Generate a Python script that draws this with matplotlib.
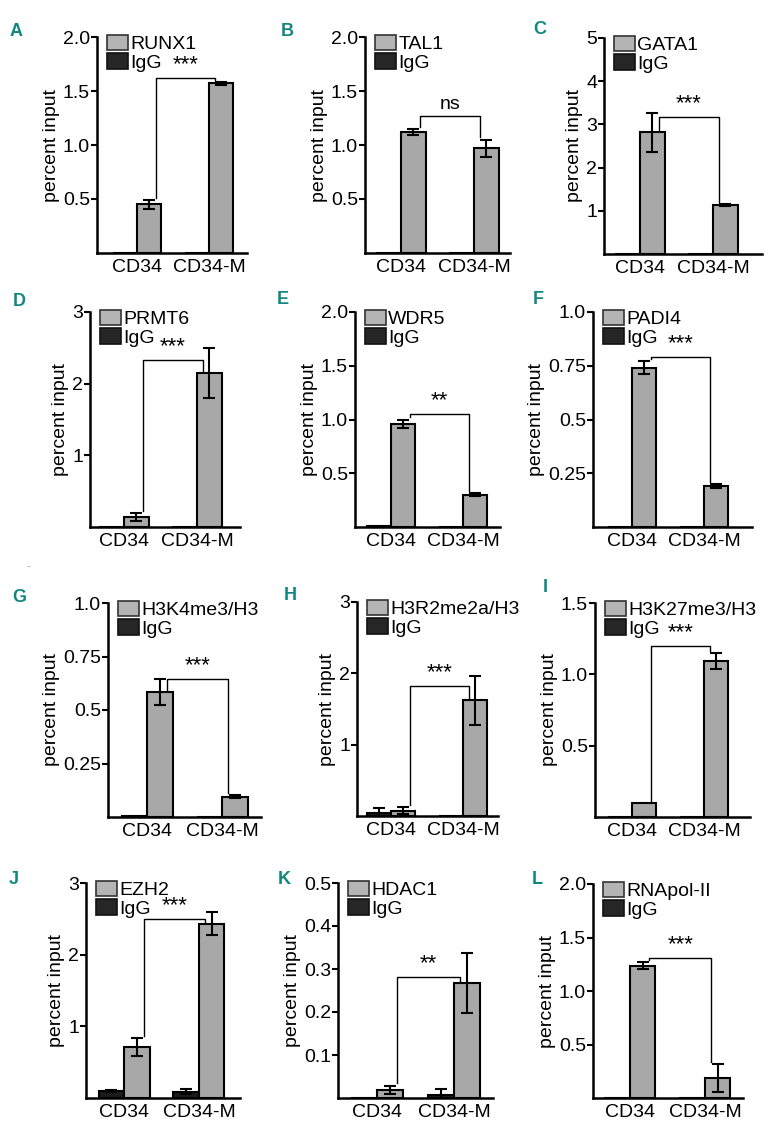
import matplotlib
matplotlib.use('Agg')
import matplotlib.pyplot as plt
import numpy as np
from matplotlib.patches import Patch

plt.rcParams['font.family'] = ['Liberation Sans', 'DejaVu Sans']

# ---- data ----
panel_letters = ['A', 'B', 'C', 'D', 'E', 'F', 'G', 'H', 'I', 'J', 'K', 'L']
antibodies = ['RUNX1', 'TAL1', 'GATA1', 'PRMT6', 'WDR5', 'PADI4',
              'H3K4me3/H3', 'H3R2me2a/H3', 'H3K27me3/H3', 'EZH2', 'HDAC1', 'RNApol-II']
cell_types = ['CD34', 'CD34-M']

ab_mean = [[0.45, 1.57], [1.12, 0.97], [2.82, 1.13], [0.14, 2.15],
           [0.96, 0.30], [0.74, 0.19], [0.585, 0.095], [0.075, 1.62],
           [0.095, 1.095], [0.71, 2.43], [0.019, 0.268], [1.237, 0.19]]
ab_err = [[0.04, 0.01], [0.03, 0.08], [0.45, 0.02], [0.06, 0.35],
          [0.04, 0.015], [0.03, 0.01], [0.06, 0.007], [0.05, 0.34],
          [0.0, 0.055], [0.13, 0.16], [0.01, 0.07], [0.03, 0.13]]
igg_mean = [[0.0, 0.0], [0.0, 0.0], [0.01, 0.0], [0.005, 0.0],
            [0.005, 0.0], [0.0, 0.0], [0.007, 0.002], [0.04, 0.0],
            [0.0, 0.0], [0.10, 0.09], [0.0, 0.008], [0.0, 0.003]]
igg_err = [[0, 0], [0, 0], [0, 0], [0, 0],
           [0, 0], [0, 0], [0, 0], [0.07, 0],
           [0, 0], [0.01, 0.04], [0, 0.012], [0, 0]]

y_max = [2.0, 2.0, 5, 3, 2.0, 1.0, 1.0, 3, 1.5, 3, 0.5, 2.0]
y_ticks = [[0.5, 1.0, 1.5, 2.0], [0.5, 1.0, 1.5, 2.0], [1, 2, 3, 4, 5], [1, 2, 3],
           [0.5, 1.0, 1.5, 2.0], [0.25, 0.5, 0.75, 1.0], [0.25, 0.5, 0.75, 1.0], [1, 2, 3],
           [0.5, 1.0, 1.5], [1, 2, 3], [0.1, 0.2, 0.3, 0.4, 0.5], [0.5, 1.0, 1.5, 2.0]]
y_ticklabels = [['0.5', '1.0', '1.5', '2.0'], ['0.5', '1.0', '1.5', '2.0'],
                ['1', '2', '3', '4', '5'], ['1', '2', '3'],
                ['0.5', '1.0', '1.5', '2.0'], ['0.25', '0.5', '0.75', '1.0'],
                ['0.25', '0.5', '0.75', '1.0'], ['1', '2', '3'],
                ['0.5', '1.0', '1.5'], ['1', '2', '3'],
                ['0.1', '0.2', '0.3', '0.4', '0.5'], ['0.5', '1.0', '1.5', '2.0']]
signif = ['***', 'ns', '***', '***', '**', '***', '***', '***', '***', '***', '**', '***']
bracket_top = [1.62, 1.27, 3.17, 2.33, 1.05, 0.79, 0.645, 1.82, 1.20, 2.5, 0.282, 1.31]

# ---- layout (pixels in the 768x1131 figure: left, top, right, bottom) ----
W, H = 768, 1131
rects = [(97, 37, 247, 253), (365, 37, 510, 253), (604, 38, 762, 254),
         (90, 312, 240, 527), (355, 312, 500, 527), (593, 312, 752, 527),
         (108, 603, 261, 817), (357, 602, 498, 816), (595, 603, 750, 817),
         (86, 883, 240, 1098), (338, 883, 493, 1098), (593, 884, 743, 1098)]
xlims = [(-0.556, 1.528), (-0.493, 1.493), (-0.493, 1.671),
         (-0.466, 1.589), (-0.5, 1.514), (-0.542, 1.667),
         (-0.52, 1.52), (-0.472, 1.486), (-0.514, 1.639),
         (-0.507, 1.547), (-0.506, 1.506), (-0.493, 1.507)]
letter_pos = [(16, 32), (287, 32), (540, 30), (19, 301), (283, 300), (538, 300),
              (19, 597), (290, 596), (545, 588), (14, 880), (284, 880), (537, 880)]

ab_color = '#a8a8a8'
igg_color = '#1c1c1c'
teal = '#12877f'
fs = 14
w = 0.34

fig = plt.figure(figsize=(W / 100, H / 100), dpi=100)

for i in range(12):
    L, T, R, B = rects[i]
    ax = fig.add_axes([L / W, 1 - B / H, (R - L) / W, (B - T) / H])
    x = np.arange(2)
    x_igg = x - w / 2
    x_ab = x + w / 2

    ax.bar(x_igg, igg_mean[i], w, color=igg_color, edgecolor='black', linewidth=1.5, zorder=2)
    ax.bar(x_ab, ab_mean[i], w, color=ab_color, edgecolor='black', linewidth=1.5, zorder=2)
    for xs, ms, es in [(x_igg, igg_mean[i], igg_err[i]), (x_ab, ab_mean[i], ab_err[i])]:
        for xx, m, e in zip(xs, ms, es):
            if e > 0:
                ax.errorbar(xx, m, yerr=e, fmt='none', ecolor='black',
                            elinewidth=1.5, capsize=4, capthick=1.5, zorder=3)

    # significance bracket
    top = bracket_top[i]
    xl = x_ab[0] + 0.09
    xr = x_ab[1] - 0.09
    starts = []
    for m, e in zip(ab_mean[i], ab_err[i]):
        s = m + e if m + e < top - 0.01 * y_max[i] else m
        starts.append(s + 0.01 * y_max[i])
    ax.plot([xl, xl, xr, xr], [starts[0], top, top, starts[1]],
            color='black', lw=1, zorder=4, clip_on=False)
    sig_fs = fs if signif[i] == 'ns' else 16
    ax.text((xl + xr) / 2, top + 0.012 * y_max[i], signif[i],
            ha='center', va='bottom', fontsize=sig_fs)

    ax.set_xlim(*xlims[i])
    ax.set_ylim(0, y_max[i])
    ax.set_yticks(y_ticks[i])
    ax.set_yticklabels(y_ticklabels[i])
    ax.set_xticks(x)
    ax.set_xticklabels(cell_types)
    ax.tick_params(axis='y', length=4, width=1.5, labelsize=fs, pad=1)
    ax.tick_params(axis='x', length=0, labelsize=fs, pad=4)
    ax.spines['top'].set_visible(False)
    ax.spines['right'].set_visible(False)
    ax.spines['left'].set_linewidth(1.8)
    ax.spines['bottom'].set_linewidth(1.8)
    ax.set_ylabel('percent input', fontsize=fs, labelpad=2)

    handles = [Patch(facecolor='#b4b4b4', edgecolor='#333333', linewidth=1.2),
               Patch(facecolor='#262626', edgecolor='#111111', linewidth=1.2)]
    ax.legend(handles, [antibodies[i], 'IgG'], loc='upper left',
              bbox_to_anchor=(10 / (R - L), 1.01), frameon=False, fontsize=fs,
              handlelength=1.1, handleheight=0.85, handletextpad=0.1,
              labelspacing=0.0, borderpad=0, borderaxespad=0)

    lx, ly = letter_pos[i]
    fig.text(lx / W, 1 - ly / H, panel_letters[i], color=teal, fontsize=13,
             fontweight='bold', ha='center', va='center',
             family=['Liberation Sans Narrow', 'Liberation Sans'])

# small stray dash above panel G in the original figure
fig.text(28 / W, 1 - 566 / H, '-', color='#9a9a9a', fontsize=8, ha='center', va='center')

fig.savefig('out.png', dpi=100)
